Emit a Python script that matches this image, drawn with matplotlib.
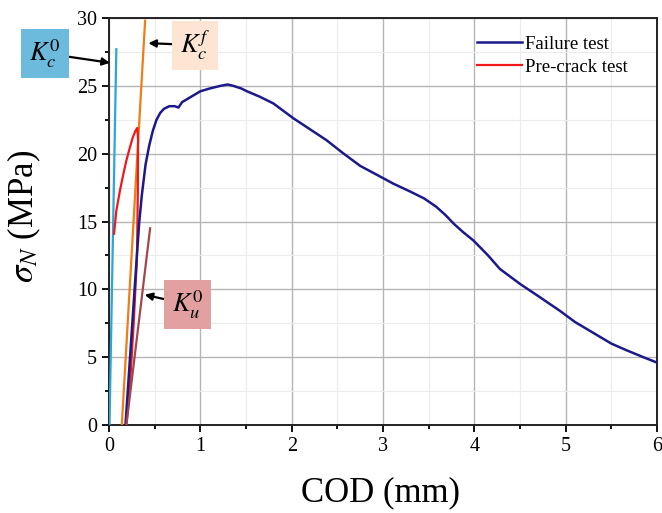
import matplotlib
matplotlib.use("Agg")
import matplotlib.pyplot as plt
from matplotlib.ticker import MultipleLocator

plt.rcParams['font.family'] = ['Liberation Serif', 'DejaVu Serif']
plt.rcParams['mathtext.fontset'] = 'stix'

# failure test curve (COD in mm, nominal stress in MPa)
failure_x = [0.18, 0.24, 0.30, 0.33, 0.36, 0.40, 0.44, 0.48, 0.52, 0.56, 0.60, 0.66,
             0.72, 0.76, 0.80, 0.90, 1.00, 1.10, 1.22, 1.30, 1.36, 1.45, 1.51, 1.65,
             1.80, 2.02, 2.20, 2.38, 2.55, 2.75, 3.00, 3.11, 3.30, 3.45, 3.58, 3.68,
             3.78, 3.88, 3.99, 4.15, 4.28, 4.50, 4.70, 4.94, 5.10, 5.30, 5.50, 5.67,
             5.85, 6.00]
failure_y = [0.0, 6.0, 12.0, 14.9, 17.0, 19.2, 20.6, 21.7, 22.5, 23.0, 23.3, 23.5,
             23.5, 23.4, 23.8, 24.2, 24.6, 24.8, 25.0, 25.1, 25.0, 24.8, 24.6, 24.2,
             23.7, 22.6, 21.8, 21.0, 20.1, 19.1, 18.2, 17.8, 17.2, 16.7, 16.1, 15.5,
             14.8, 14.2, 13.6, 12.5, 11.5, 10.4, 9.5, 8.4, 7.6, 6.8, 6.0, 5.5,
             5.0, 4.6]

# pre-crack test curve
precrack_x = [0.055, 0.08, 0.12, 0.16, 0.19, 0.23, 0.26, 0.29, 0.31, 0.318,
              0.315, 0.305, 0.27, 0.23, 0.19]
precrack_y = [14.1, 15.8, 17.3, 18.6, 19.5, 20.5, 21.2, 21.7, 21.9, 21.0,
              17.0, 12.2, 7.5, 3.0, 0.0]

# stiffness lines
kc0_x = [0.005, 0.08]
kc0_y = [0.0, 27.7]
kcf_x = [0.14, 0.395]
kcf_y = [0.0, 29.8]
ku0_x = [0.19, 0.45]
ku0_y = [0.0, 14.5]

fig = plt.figure(figsize=(6.62, 5.13), dpi=100)
ax = fig.add_axes([0.1647, 0.1715, 0.8278, 0.7934])

ax.plot(kc0_x, kc0_y, color='#2aa6d8', lw=1.6, zorder=3)
ax.plot(kcf_x, kcf_y, color='#f07c12', lw=1.6, zorder=3)
ax.plot(precrack_x, precrack_y, color='#f01818', lw=1.6, zorder=4, label='Pre-crack test')
ax.plot(failure_x, failure_y, color='#1c1a8a', lw=1.8, zorder=4, label='Failure test')
ax.plot(ku0_x, ku0_y, color='#a3474a', lw=1.6, zorder=5)

ax.set_xlim(0, 6)
ax.set_ylim(0, 30)
ax.xaxis.set_major_locator(MultipleLocator(1))
ax.xaxis.set_minor_locator(MultipleLocator(0.5))
ax.yaxis.set_major_locator(MultipleLocator(5))
ax.yaxis.set_minor_locator(MultipleLocator(2.5))
ax.grid(which='major', color='#b5b5b5', lw=1.0)
ax.grid(which='minor', color='#ececec', lw=0.8)
ax.set_axisbelow(True)
ax.tick_params(which='both', direction='out', top=False, right=False,
               labelsize=14.5, width=1.3)
ax.tick_params(which='major', length=5)
ax.tick_params(which='minor', length=3)
for s in ax.spines.values():
    s.set_linewidth(1.4)
    s.set_color('#222222')

ax.set_xlabel('COD (mm)', fontsize=25)
ax.set_ylabel(r'$\sigma_N$ (MPa)', fontsize=25)
ax.xaxis.set_label_coords(0.496, -0.125)
ax.yaxis.set_label_coords(-0.12, 0.513)

h, l = ax.get_legend_handles_labels()
ax.legend(h[::-1], l[::-1], loc='upper left', bbox_to_anchor=(0.672, 0.956),
          frameon=False, fontsize=13.5, handlelength=2.4, handletextpad=0.15,
          labelspacing=0.3, borderpad=0, borderaxespad=0)

arrow = dict(arrowstyle='-|>', color='black', lw=1.6, mutation_scale=11,
             shrinkA=0, shrinkB=0)
ax.annotate(r'$K_c^0$', xy=(0.01, 26.7), xytext=(-0.70, 27.4), fontsize=19,
            ha='center', va='center', annotation_clip=False,
            bbox=dict(boxstyle='square,pad=0.3', fc='#6cbadc', ec='none'),
            arrowprops=arrow)
ax.annotate(r'$K_c^f$', xy=(0.43, 28.15), xytext=(0.94, 28.0), fontsize=19,
            ha='center', va='center', annotation_clip=False,
            bbox=dict(boxstyle='square,pad=0.3', fc='#fde4d3', ec='none'),
            arrowprops=arrow)
ax.annotate(r'$K_u^0$', xy=(0.39, 9.6), xytext=(0.86, 8.9), fontsize=19,
            ha='center', va='center', annotation_clip=False,
            bbox=dict(boxstyle='square,pad=0.3', fc='#e3a0a0', ec='none'),
            arrowprops=arrow)

fig.savefig('out.png', dpi=100)
